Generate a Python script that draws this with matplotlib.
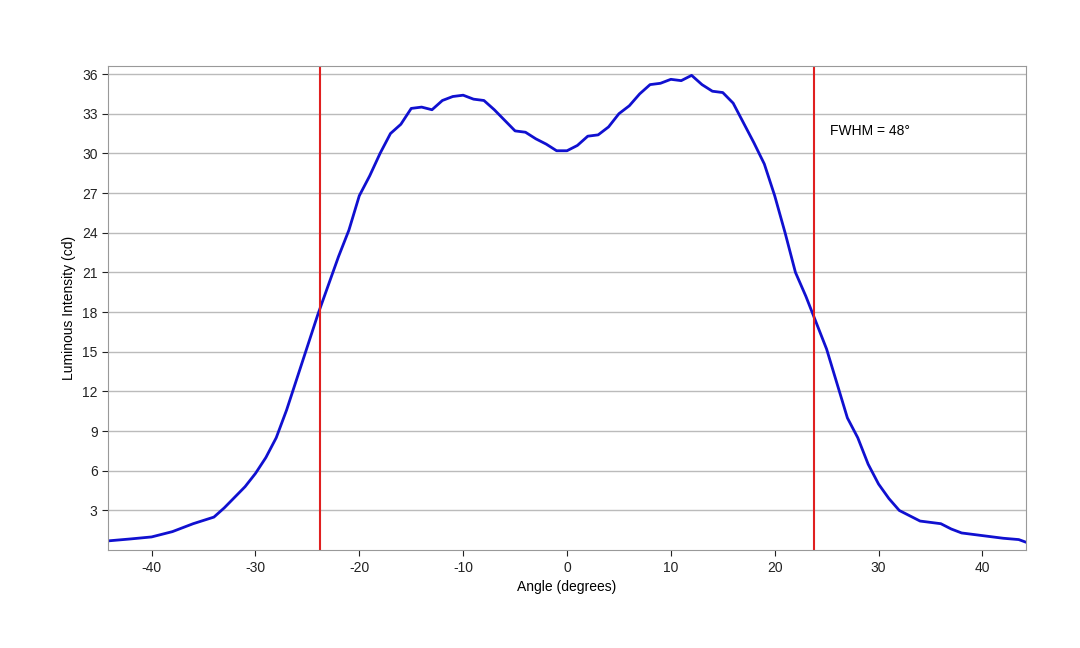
import matplotlib
matplotlib.use("Agg")
import matplotlib.pyplot as plt

plt.rcParams['font.family'] = ['Liberation Sans', 'DejaVu Sans']
plt.rcParams['axes.unicode_minus'] = False

angle = [-44.2,-42,-40,-38,-36,-34,-33,-32,-31,-30,-29,-28,-27,-26,-25,-24,-23,-22,-21,-20,-19,-18,-17,-16,-15,-14,-13,-12,-11,-10,-9,-8,-7,-6,-5,-4,-3,-2,-1,0,1,2,3,4,5,6,7,8,9,10,11,12,13,14,15,16,17,18,19,20,21,22,23,24,25,26,27,28,29,30,31,32,33,34,35,36,37,38,40,42,43.5,44.2]
intensity = [0.7,0.85,1.0,1.4,2.0,2.5,3.2,4.0,4.8,5.8,7.0,8.5,10.6,13.0,15.4,17.8,20.0,22.2,24.2,26.8,28.3,30.0,31.5,32.2,33.4,33.5,33.3,34.0,34.3,34.4,34.1,34.0,33.3,32.5,31.7,31.6,31.1,30.7,30.2,30.2,30.6,31.3,31.4,32.0,33.0,33.6,34.5,35.2,35.3,35.6,35.5,35.9,35.2,34.7,34.6,33.8,32.3,30.8,29.2,26.8,24.0,21.0,19.2,17.2,15.2,12.6,10.0,8.5,6.5,5.0,3.9,3.0,2.6,2.2,2.1,2.0,1.6,1.3,1.1,0.9,0.8,0.6]
fwhm_lines = [-23.8, 23.8]

fig = plt.figure(figsize=(10.8, 6.48), dpi=100)
ax = fig.add_axes([0.1, 0.151, 0.85, 0.747])
ax.plot(angle, intensity, color="#1010d0", lw=2)
for x in fwhm_lines:
    ax.axvline(x, color="#e02020", lw=1.5)
ax.set_xlim(-44.2, 44.2)
ax.set_ylim(0, 36.6)
ax.set_yticks(range(3, 37, 3))
ax.set_xticks(range(-40, 41, 10))
ax.yaxis.grid(True, color="#bbbbbb", lw=1)
ax.set_axisbelow(True)
for s in ax.spines.values():
    s.set_color("#999999")
ax.tick_params(colors="#222222", labelsize=10, length=4)
ax.set_xlabel("Angle (degrees)", fontsize=10)
ax.set_ylabel("Luminous Intensity (cd)", fontsize=10)
ax.text(25.3, 31.4, "FWHM = 48°", fontsize=10)
fig.savefig("out.png", dpi=100)
